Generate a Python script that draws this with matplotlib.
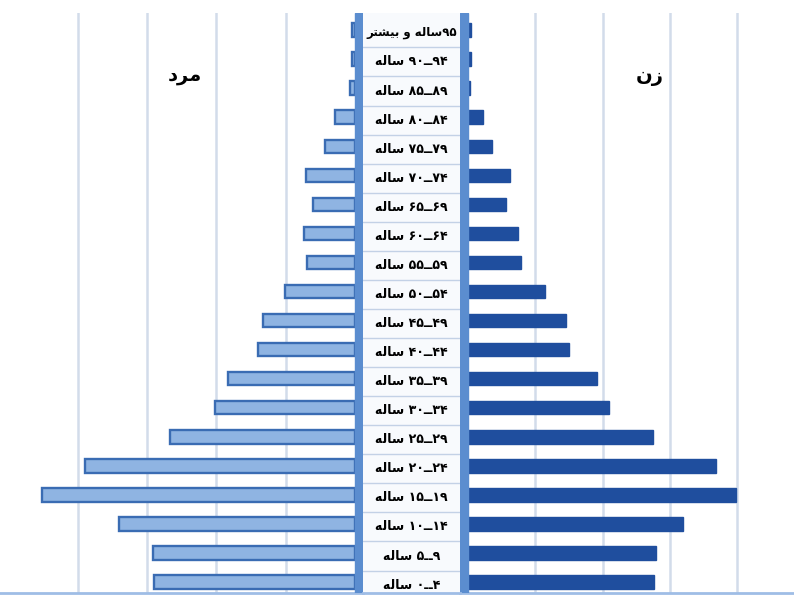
import matplotlib
matplotlib.use('Agg')
import matplotlib.pyplot as plt

plt.rcParams['font.family'] = ['DejaVu Sans']

# age groups, youngest first (bottom of the pyramid)
ageLow = [0, 5, 10, 15, 20, 25, 30, 35, 40, 45, 50, 55, 60, 65, 70, 75, 80, 85, 90, 95]
male = [2.90, 2.91, 3.41, 4.52, 3.90, 2.67, 2.02, 1.83, 1.40, 1.33,
        1.01, 0.69, 0.74, 0.61, 0.71, 0.43, 0.29, 0.07, 0.04, 0.04]
female = [2.76, 2.79, 3.19, 3.98, 3.68, 2.75, 2.10, 1.92, 1.50, 1.46,
          1.14, 0.79, 0.74, 0.56, 0.62, 0.36, 0.22, 0.03, 0.04, 0.04]

wordYears = 'ساله'
wordLast = 'ساله و بیشتر'
titleMale = 'مرد'
titleFemale = 'زن'

#
# matplotlib has no arabic shaping, so pick presentation forms by hand
# and lay the letters out in visual (left to right) order.
#
FORMS = {
  'ا': ('\uFE8D', '\uFE8E', None, None),
  'ب': ('\uFE8F', '\uFE90', '\uFE91', '\uFE92'),
  'ت': ('\uFE95', '\uFE96', '\uFE97', '\uFE98'),
  'د': ('\uFEA9', '\uFEAA', None, None),
  'ر': ('\uFEAD', '\uFEAE', None, None),
  'ز': ('\uFEAF', '\uFEB0', None, None),
  'س': ('\uFEB1', '\uFEB2', '\uFEB3', '\uFEB4'),
  'ش': ('\uFEB5', '\uFEB6', '\uFEB7', '\uFEB8'),
  'ل': ('\uFEDD', '\uFEDE', '\uFEDF', '\uFEE0'),
  'م': ('\uFEE1', '\uFEE2', '\uFEE3', '\uFEE4'),
  'ن': ('\uFEE5', '\uFEE6', '\uFEE7', '\uFEE8'),
  'ه': ('\uFEE9', '\uFEEA', '\uFEEB', '\uFEEC'),
  'و': ('\uFEED', '\uFEEE', None, None),
  'ی': ('\uFEEF', '\uFEF0', '\uFEF3', '\uFEF4'),
}

def shape(txt):
  res = []
  for i, ch in enumerate(txt):
    if ch not in FORMS:
      res.append(ch)
      continue
    prev = txt[i - 1] if i > 0 else ''
    nxt = txt[i + 1] if i + 1 < len(txt) else ''
    joinPrev = prev in FORMS and FORMS[prev][2] is not None
    joinNext = nxt in FORMS and FORMS[ch][2] is not None
    iso, fin, ini, med = FORMS[ch]
    if joinPrev and joinNext:
      res.append(med)
    elif joinPrev:
      res.append(fin)
    elif joinNext:
      res.append(ini)
    else:
      res.append(iso)
  return ''.join(reversed(res))
# /shape

def faDigits(n):
  return ''.join(chr(0x06F0 + int(d)) for d in str(n))
# /faDigits

labels = []
for lo in ageLow:
  if lo == 95:
    labels.append(shape(wordLast) + faDigits(lo))
  else:
    labels.append(shape(wordYears) + ' ' + faDigits(lo) + '\u0640\u0640' + faDigits(lo + 4))

W, H = 794.0, 595.0
fig = plt.figure(figsize=(W / 100, H / 100), dpi=100)

def axPx(x0, x1, y0, y1):
  return fig.add_axes([x0 / W, 1 - y1 / H, (x1 - x0) / W, (y1 - y0) / H])

ys = list(range(len(ageLow)))
ylo = -0.373
yhi = 19.585
gridCol = '#d2dcea'
stripCol = '#5b8dcf'

# left panel (men)
lax = axPx(0, 363, 13, 593)
lax.set_xlim(-355 / 69.3, 8 / 69.3)
lax.set_ylim(ylo, yhi)
for g in [-1, -2, -3, -4]:
  lax.axvline(g, color=gridCol, lw=1.8, zorder=0)
lax.barh(ys, [-v for v in male], height=0.46, color='#8fb4e2',
         edgecolor='#3a6cb3', linewidth=1.7, zorder=2)
lax.axvspan(0, 8 / 69.3, color=stripCol, zorder=3)
lax.text(-2.45, 17.45, shape(titleMale), fontsize=14, fontweight='bold',
         ha='center', va='center')

# right panel (women)
rax = axPx(460, 794, 13, 593)
rax.set_xlim(-8 / 67.3, 326 / 67.3)
rax.set_ylim(ylo, yhi)
for g in [1, 2, 3, 4]:
  rax.axvline(g, color=gridCol, lw=1.8, zorder=0)
rax.barh(ys, female, height=0.46, color='#1f4e9e', edgecolor='#1f4e9e',
         linewidth=1.0, zorder=2)
rax.axvspan(-8 / 67.3, 0, color=stripCol, zorder=3)
rax.text(2.70, 17.4, shape(titleFemale), fontsize=14, fontweight='bold',
         ha='center', va='center')

# centre column with the age labels
cax = axPx(363, 460, 13, 593)
cax.set_xlim(0, 1)
cax.set_ylim(ylo, yhi)
cax.set_facecolor('#f8fafd')
for y in ys[:-1]:
  cax.axhline(y + 0.4, color='#c3d1e6', lw=1)
for y, lab in zip(ys, labels):
  fs = 8.5 if y == ys[-1] else 9
  cax.text(0.5, y - 0.1, lab, fontsize=fs, fontweight='bold',
           ha='center', va='center')

for a in (lax, rax, cax):
  a.set_xticks([])
  a.set_yticks([])
  for s in ['top', 'left', 'right']:
    a.spines[s].set_visible(False)
  a.spines['bottom'].set_color('#9fbde6')
  a.spines['bottom'].set_linewidth(2)

plt.savefig('out.png', dpi=100)
